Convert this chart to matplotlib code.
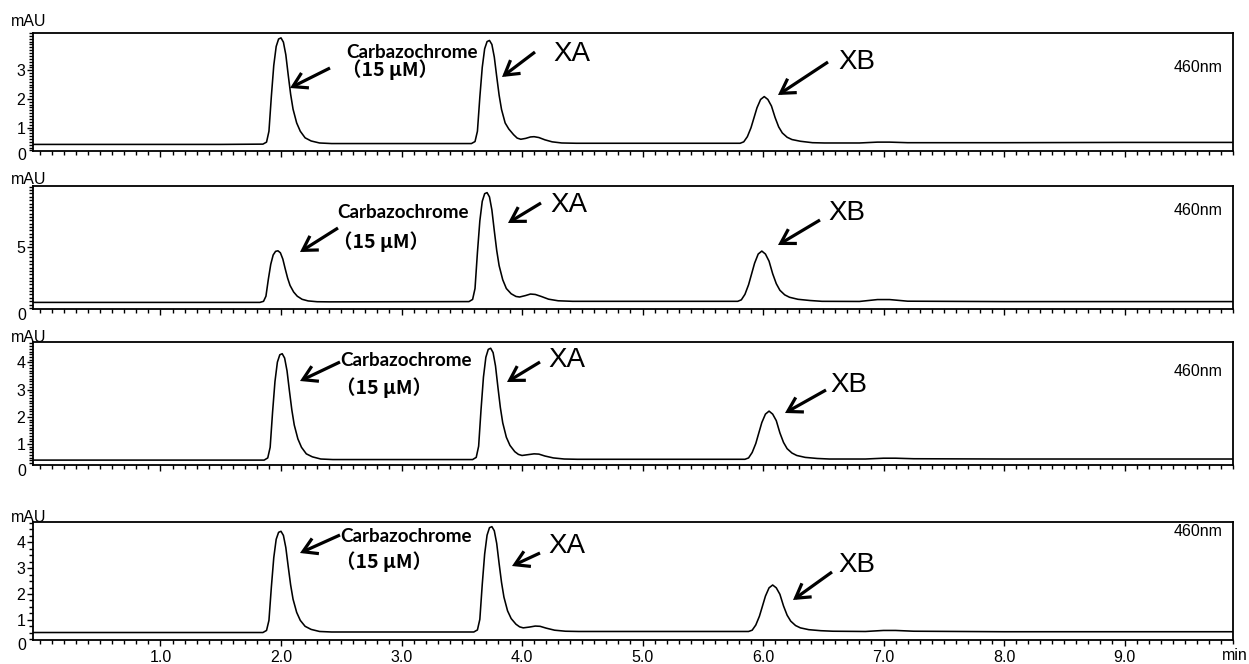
import matplotlib
matplotlib.use('Agg')
import matplotlib.pyplot as plt
from matplotlib.patches import FancyArrowPatch
from matplotlib.ticker import MultipleLocator, FixedLocator

plt.rcParams['font.family'] = ['Liberation Sans', 'DejaVu Sans']

# ---------------- data ----------------
time_p1 = [-0.06, 0.5, 1.0, 1.5, 1.85, 1.88, 1.90, 1.92, 1.94, 1.96, 1.98, 2.00, 2.02, 2.04, 2.06,
           2.08, 2.10, 2.13, 2.16, 2.20, 2.25, 2.32, 2.42, 3.0, 3.58, 3.61, 3.63, 3.65, 3.67, 3.69,
           3.71, 3.73, 3.75, 3.77, 3.79, 3.81, 3.83, 3.86, 3.89, 3.93, 3.96, 3.99, 4.03, 4.07, 4.10,
           4.14, 4.19, 4.25, 4.33, 4.45, 5.0, 5.81, 5.84, 5.87, 5.90, 5.92, 5.95, 5.98, 6.01, 6.04,
           6.07, 6.10, 6.13, 6.16, 6.20, 6.24, 6.31, 6.41, 6.51, 6.8, 6.95, 7.05, 7.2, 8.0, 9.0, 9.9]
mau_p1 = [0.41, 0.41, 0.41, 0.41, 0.42, 0.49, 0.87, 2.09, 3.17, 3.83, 4.09, 4.13, 3.98, 3.54, 2.83,
          2.16, 1.64, 1.16, 0.87, 0.64, 0.53, 0.46, 0.44, 0.44, 0.44, 0.51, 0.87, 2.06, 3.10, 3.75,
          4.00, 4.04, 3.90, 3.46, 2.78, 2.13, 1.63, 1.16, 0.95, 0.75, 0.63, 0.59, 0.62, 0.67, 0.68,
          0.65, 0.57, 0.50, 0.46, 0.45, 0.45, 0.45, 0.50, 0.68, 0.99, 1.27, 1.69, 1.98, 2.08, 1.98,
          1.75, 1.35, 1.02, 0.81, 0.66, 0.58, 0.52, 0.47, 0.46, 0.46, 0.49, 0.49, 0.47, 0.47, 0.48, 0.48]

time_p2 = [-0.06, 0.5, 1.0, 1.5, 1.825, 1.855, 1.875, 1.895, 1.915, 1.935, 1.955, 1.975, 1.995, 2.015,
           2.035, 2.055, 2.075, 2.105, 2.135, 2.175, 2.225, 2.30, 2.40, 3.0, 3.56, 3.59, 3.61, 3.63,
           3.65, 3.67, 3.69, 3.71, 3.73, 3.75, 3.77, 3.79, 3.81, 3.84, 3.87, 3.91, 3.95, 3.98, 4.03,
           4.07, 4.11, 4.16, 4.22, 4.30, 4.42, 5.0, 5.79, 5.82, 5.85, 5.88, 5.90, 5.93, 5.96, 5.99,
           6.02, 6.05, 6.08, 6.11, 6.14, 6.18, 6.22, 6.29, 6.39, 6.49, 6.8, 6.95, 7.05, 7.2, 8.0, 9.0, 9.9]
mau_p2 = [0.91, 0.91, 0.91, 0.91, 0.91, 0.99, 1.37, 2.63, 3.74, 4.43, 4.70, 4.74, 4.59, 4.13,
          3.40, 2.71, 2.17, 1.68, 1.37, 1.14, 1.02, 0.96, 0.95, 0.96, 0.97, 1.13, 1.94, 4.61,
          6.96, 8.41, 8.98, 9.06, 8.74, 7.77, 6.23, 4.77, 3.64, 2.59, 1.94, 1.55, 1.35, 1.31, 1.42,
          1.53, 1.50, 1.35, 1.15, 1.03, 0.99, 0.99, 0.99, 1.10, 1.51, 2.22, 2.86, 3.82, 4.50, 4.72,
          4.50, 3.97, 3.04, 2.30, 1.81, 1.47, 1.29, 1.14, 1.05, 0.99, 0.98, 1.12, 1.12, 1.00, 0.97, 0.97, 0.97]

time_p3 = [-0.06, 0.5, 1.0, 1.5, 1.86, 1.89, 1.91, 1.93, 1.95, 1.97, 1.99, 2.01, 2.03, 2.05, 2.07,
           2.09, 2.11, 2.14, 2.17, 2.21, 2.26, 2.33, 2.43, 3.0, 3.59, 3.62, 3.64, 3.66, 3.68, 3.70,
           3.72, 3.74, 3.76, 3.78, 3.80, 3.82, 3.84, 3.87, 3.90, 3.94, 3.97, 4.00, 4.05, 4.10, 4.14,
           4.19, 4.26, 4.35, 4.46, 5.0, 5.85, 5.88, 5.91, 5.94, 5.96, 5.99, 6.02, 6.05, 6.08, 6.11,
           6.14, 6.17, 6.20, 6.24, 6.28, 6.35, 6.45, 6.55, 6.85, 7.0, 7.1, 7.25, 8.0, 9.0, 9.9]
mau_p3 = [0.41, 0.41, 0.41, 0.41, 0.41, 0.49, 0.88, 2.17, 3.30, 4.01, 4.28, 4.32, 4.16, 3.69, 2.95,
          2.25, 1.70, 1.19, 0.88, 0.64, 0.53, 0.45, 0.43, 0.43, 0.43, 0.51, 0.92, 2.27, 3.46, 4.19,
          4.48, 4.52, 4.36, 3.87, 3.09, 2.35, 1.78, 1.25, 0.95, 0.72, 0.62, 0.58, 0.61, 0.64, 0.63,
          0.56, 0.49, 0.45, 0.44, 0.44, 0.44, 0.49, 0.69, 1.02, 1.33, 1.79, 2.10, 2.21, 2.10, 1.86,
          1.41, 1.06, 0.83, 0.67, 0.58, 0.51, 0.47, 0.45, 0.45, 0.48, 0.48, 0.46, 0.45, 0.45, 0.45]

time_p4 = [-0.06, 0.5, 1.0, 1.5, 1.85, 1.88, 1.90, 1.92, 1.94, 1.96, 1.98, 2.00, 2.02, 2.04, 2.06,
           2.08, 2.10, 2.13, 2.16, 2.20, 2.25, 2.32, 2.42, 3.0, 3.60, 3.63, 3.65, 3.67, 3.69, 3.71,
           3.73, 3.75, 3.77, 3.79, 3.81, 3.83, 3.85, 3.88, 3.91, 3.95, 3.98, 4.01, 4.06, 4.11, 4.15,
           4.20, 4.27, 4.36, 4.47, 5.0, 5.88, 5.91, 5.94, 5.97, 5.99, 6.02, 6.05, 6.08, 6.11, 6.14,
           6.17, 6.20, 6.23, 6.27, 6.31, 6.38, 6.48, 6.58, 6.85, 7.0, 7.1, 7.25, 8.0, 9.0, 9.9]
mau_p4 = [0.51, 0.51, 0.51, 0.51, 0.51, 0.59, 0.98, 2.27, 3.41, 4.12, 4.39, 4.43, 4.27, 3.80, 3.06,
          2.35, 1.80, 1.29, 0.98, 0.75, 0.63, 0.55, 0.53, 0.53, 0.53, 0.61, 1.02, 2.37, 3.55, 4.28,
          4.57, 4.61, 4.45, 3.96, 3.18, 2.45, 1.88, 1.35, 1.05, 0.83, 0.73, 0.69, 0.72, 0.76, 0.75,
          0.68, 0.60, 0.56, 0.55, 0.55, 0.55, 0.60, 0.80, 1.14, 1.45, 1.92, 2.24, 2.35, 2.24, 1.99,
          1.54, 1.18, 0.95, 0.78, 0.69, 0.62, 0.58, 0.56, 0.55, 0.59, 0.59, 0.56, 0.54, 0.54, 0.54]

x_ticks = [1.0, 2.0, 3.0, 4.0, 5.0, 6.0, 7.0, 8.0, 9.0]
x_tick_labels = ['1.0', '2.0', '3.0', '4.0', '5.0', '6.0', '7.0', '8.0', '9.0']
y_ticks = [[1, 2, 3], [5], [1, 2, 3, 4], [1, 2, 3, 4]]
y_minor = [0.1, 0.25, 0.1, 0.25]
y_limits = [(0.18, 4.30), (0.42, 9.55), (0.23, 4.75), (0.22, 4.79)]
compound_label = 'Carbazochrome'
conc_label = '（15 μM）'
peak_labels = ['XA', 'XB']
wavelength = '460nm'
unit_label = 'mAU'

times = [time_p1, time_p2, time_p3, time_p4]
values = [mau_p1, mau_p2, mau_p3, mau_p4]

# ---------------- layout (pixels, y from top) ----------------
W, H = 1249, 664
fig = plt.figure(figsize=(W / 100, H / 100), dpi=100)

def fx(x):
    return x / W

def fy(y):
    return 1 - y / H

panel_top = [33, 186, 342, 522]
panel_bot = [151, 309, 465, 640]
zero_y = [155.5, 315, 471.5, 646]
mau_y = [21, 180, 338, 517]
nm_y = [67, 211, 372, 531]

# annotation pixel positions
carb_txt = [(346, 52, 70), (337, 212, 242), (340, 360, 388), (340, 537, 562)]
carb_arrow = [((330, 68), (290, 88)), ((338, 228), (300, 252)), ((340, 362), (300, 381)), ((340, 535), (300, 553))]
xa_txt = [(553, 54), (550, 205), (548, 360), (548, 546)]
xa_arrow = [((535, 52), (502, 77)), ((541, 203), (508, 223)), ((540, 362), (507, 382)), ((540, 553), (512, 566))]
xb_txt = [(838, 62), (828, 213), (830, 385), (838, 565)]
xb_arrow = [((828, 62), (778, 95)), ((820, 220), (778, 245)), ((826, 390), (785, 413)), ((832, 572), (793, 600))]

arrow_style = '->,head_length=0.5,head_width=0.3'


def add_arrow(tail, head):
    fig.add_artist(FancyArrowPatch((fx(tail[0]), fy(tail[1])), (fx(head[0]), fy(head[1])),
                                   transform=fig.transFigure, arrowstyle=arrow_style,
                                   mutation_scale=20, lw=2.3, color='black',
                                   shrinkA=0, shrinkB=0, joinstyle='miter', capstyle='butt'))


for i in range(4):
    top, bot = panel_top[i], panel_bot[i]
    ax = fig.add_axes([fx(33), fy(bot), fx(1233) - fx(33), (bot - top) / H])
    ax.plot(times[i], values[i], color='black', lw=1.15)
    ax.set_xlim(-0.058, 9.90)
    ax.set_ylim(*y_limits[i])
    ax.xaxis.set_major_locator(FixedLocator(x_ticks))
    ax.xaxis.set_minor_locator(MultipleLocator(0.1))
    ax.yaxis.set_major_locator(FixedLocator(y_ticks[i]))
    ax.yaxis.set_minor_locator(MultipleLocator(y_minor[i]))
    ax.tick_params(axis='both', which='both', direction='out', color='black', width=1.0)
    ax.tick_params(axis='both', which='major', length=4, labelsize=11.5, pad=1.5)
    ax.tick_params(axis='both', which='minor', length=3)
    for s in ax.spines.values():
        s.set_linewidth(1.3)
    if i == 3:
        ax.set_xticklabels(x_tick_labels)
        ax.tick_params(axis='x', which='major', pad=3)
    else:
        ax.set_xticklabels([])

    fig.text(fx(26), fy(zero_y[i]), '0', ha='right', va='center', fontsize=11.5)
    fig.text(fx(11), fy(mau_y[i]), unit_label, ha='left', va='center', fontsize=11.5)
    fig.text(fx(1222), fy(nm_y[i]), wavelength, ha='right', va='center', fontsize=11.5)

    cx, cy1, cy2 = carb_txt[i]
    fig.text(fx(cx), fy(cy1), compound_label, ha='left', va='center', fontsize=13.5,
             fontweight='bold', family=['Lato', 'Noto Sans CJK SC', 'DejaVu Sans'])
    fig.text(fx(cx - 4), fy(cy2), conc_label, ha='left', va='center', fontsize=14,
             fontweight='bold', family=['Noto Sans CJK SC', 'DejaVu Sans'])
    add_arrow(*carb_arrow[i])
    add_arrow(*xa_arrow[i])
    add_arrow(*xb_arrow[i])
    fig.text(fx(xa_txt[i][0]), fy(xa_txt[i][1]), peak_labels[0], ha='left', va='center', fontsize=20)
    fig.text(fx(xb_txt[i][0]), fy(xb_txt[i][1]), peak_labels[1], ha='left', va='center', fontsize=20)

fig.text(fx(1248), fy(655), 'min', ha='right', va='center', fontsize=11.5)

fig.savefig('out.png', dpi=100)
